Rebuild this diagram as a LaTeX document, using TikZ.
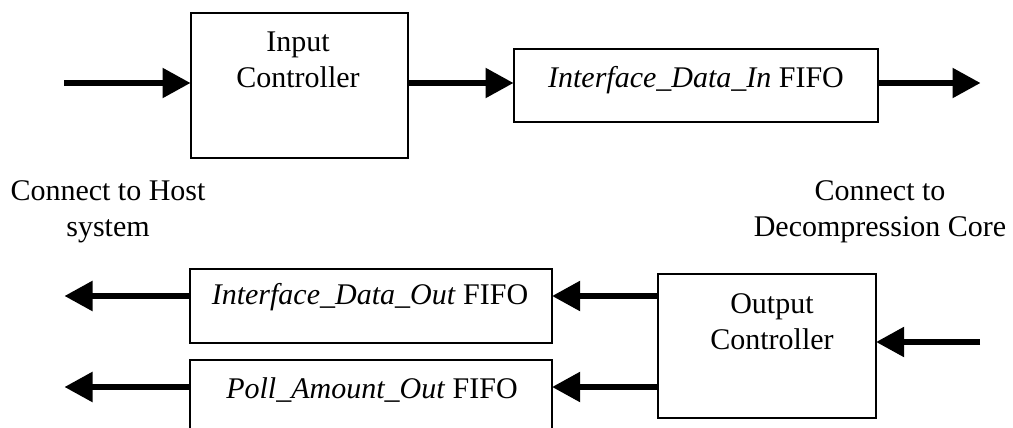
\documentclass[tikz,border=0pt]{standalone}
\usepackage{fontspec}
\setmainfont{Liberation Serif}
\usetikzlibrary{arrows.meta}
\begin{document}
\begin{tikzpicture}[x=1pt,y=-1pt,
  blockbox/.style={draw,line width=1.6pt,rectangle,inner sep=0pt,anchor=north west},
  lbl/.style={inner sep=0pt,align=center,font=\fontsize{30}{36}\selectfont},
  flow/.style={line width=5.5pt,-{Triangle[length=28pt,width=29pt]},shorten >=-0.5pt}]
\useasboundingbox (0,0) rectangle (1013,428);
\clip (0,0) rectangle (1013,428);

% blocks
\node[blockbox,minimum width=217pt,minimum height=145pt] (inctl) at (190,12) {};
\node[blockbox,minimum width=364pt,minimum height=73pt] (idin) at (513,48) {};
\node[blockbox,minimum width=362pt,minimum height=74pt] (idout) at (189,268) {};
\node[blockbox,minimum width=362pt,minimum height=110pt] (poll) at (189,359) {};
\node[blockbox,minimum width=218pt,minimum height=144pt] (outctl) at (657,273) {};

% block texts
\node[lbl] (tinctl) at (298,60) {Input\\Controller};
\node[lbl] (tidin) at (696,80) {\textit{Interface\_Data\_In} FIFO};
\node[lbl] (tidout) at (370,297) {\textit{Interface\_Data\_Out} FIFO};
\node[lbl] (tpoll) at (372,390) {\textit{Poll\_Amount\_Out} FIFO};
\node[lbl] (toutctl) at (772,322) {Output\\Controller};

% side captions
\node[lbl] (host) at (108,212) {Connect to Host\\system};
\node[lbl] (core) at (880,212) {Connect to\\Decompression Core};

% free ends of the connectors
\coordinate (hostin) at (64,83);
\coordinate (coreout) at (980,83);
\coordinate (corein) at (980,342);
\coordinate (hostout1) at (65,296);
\coordinate (hostout2) at (65,387);

% connectors
\draw[flow] (hostin) -- (hostin -| inctl.west);
\draw[flow] (inctl.east |- hostin) -- (idin.west |- hostin);
\draw[flow] (idin.east |- coreout) -- (coreout);
\draw[flow] (corein) -- (outctl.east |- corein);
\draw[flow] (outctl.west |- hostout1) -- (idout.east |- hostout1);
\draw[flow] (outctl.west |- hostout2) -- (poll.east |- hostout2);
\draw[flow] (idout.west |- hostout1) -- (hostout1);
\draw[flow] (poll.west |- hostout2) -- (hostout2);
\end{tikzpicture}
\end{document}
